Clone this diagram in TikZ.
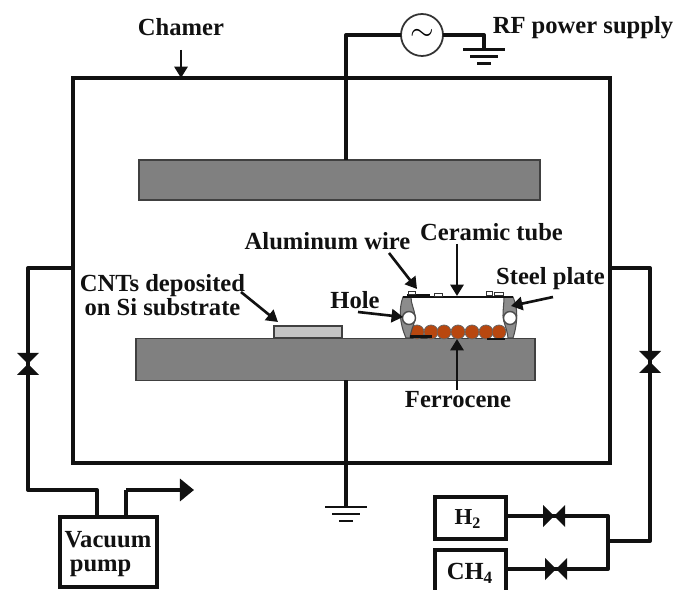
\documentclass[tikz,border=0pt]{standalone}
\usepackage{fontspec}
\setmainfont{Liberation Serif}
\usetikzlibrary{arrows.meta}
\definecolor{PlateGray}{HTML}{808080}
\definecolor{SubstrateGray}{HTML}{C4C4C4}
\definecolor{SteelGray}{HTML}{8C8C8C}
\definecolor{BallOrange}{HTML}{B8470F}
\definecolor{LineBlack}{HTML}{111111}
\tikzset{
  pipe/.style={LineBlack, line width=2.3pt, line join=round},
  thinpipe/.style={LineBlack, line width=1.7pt},
  pointer/.style={LineBlack, line width=1.5pt, -{Triangle[length=6.5pt,width=7.5pt]}},
  lbl/.style={font=\bfseries\fontsize{14}{13.5}\selectfont, text=LineBlack, inner sep=0pt, align=center},
  pxbox/.style 2 args={minimum width=#1*0.02cm, minimum height=#2*0.02cm, inner sep=0pt, outer sep=0pt},
  plate/.style={fill=PlateGray, draw=black!75, line width=0.6pt},
  gasbox/.style={draw=LineBlack, line width=2.3pt, fill=white},
  steel/.style={fill=SteelGray, draw=black!70, line width=0.6pt},
  vvalve/.pic={\fill[LineBlack] (-11,-11) -- (11,-11) -- (-11,11) -- (11,11) -- cycle;},
  hvalve/.pic={\fill[LineBlack] (-11,-11) -- (-11,11) -- (11,-11) -- (11,11) -- cycle;},
  earth/.pic={
    \draw[thinpipe] (-21,0) -- (21,0);
    \draw[thinpipe] (-14,7) -- (14,7);
    \draw[thinpipe] (-7,14) -- (7,14);
  },
}
\begin{document}
\begin{tikzpicture}[x=0.02cm, y=-0.02cm]
  \useasboundingbox (0,0) rectangle (675,590);

  % Chamber and electrodes
  \node[pxbox={537}{385}, draw=LineBlack, line width=2.3pt] (chamber) at (341.5,270.5) {};
  \node[pxbox={401}{40}, plate] (topplate) at (339.5,180) {};
  \node[pxbox={399}{42}, plate] (bottomplate) at (335.5,359.5) {};
  \node[pxbox={68}{12}, fill=SubstrateGray, draw=black!75, line width=0.8pt] (substrate) at (308,332) {};

  % Gas boxes and pump
  \node[pxbox={97}{70}, gasbox] (pump) at (108.5,552) {};
  \node[lbl] (pumplbl) at (108,554) {Vacuum\\pump\hspace*{0.6em}};
  \node[pxbox={71}{42}, gasbox] (hbox) at (470.5,518) {};
  \node[lbl, font=\bfseries\fontsize{13}{13.5}\selectfont] (hlbl) at (468,519) {H\textsubscript{2}};
  \node[pxbox={71}{46}, gasbox] (chbox) at (470.5,573) {};
  \node[lbl] (chlbl) at (470,573) {CH\textsubscript{4}};

  % RF supply
  \coordinate (rftop) at (346,35);
  \coordinate (rfend) at (484,35);
  \coordinate (rfearth) at (484,50);
  \node[circle, draw=black!80, line width=1pt, fill=white, minimum size=42*0.02cm, inner sep=0pt, outer sep=0pt, font=\LARGE] (rf) at (422,35) {$\sim$};
  \draw[pipe] (rftop |- topplate.north) -- (rftop) -- (rf.west);
  \draw[pipe] (rf.east) -- (rfend) -- (rfearth);
  \pic at (rfearth) {earth};

  % Ground under the lower electrode
  \coordinate (lowearth) at (346,507);
  \draw[pipe] (lowearth |- bottomplate.south) -- (lowearth);
  \pic at (lowearth) {earth};

  % Pump line
  \coordinate (leftport) at (28,268);
  \coordinate (leftcorner) at (28,490);
  \coordinate (pumpin) at (97,490);
  \coordinate (pumpout) at (126,490);
  \coordinate (exhaust) at (194,490);
  \draw[pipe] (chamber.west |- leftport) -- (leftport) -- (leftcorner) -- (pumpin) -- (pumpin |- pump.north);
  \draw[pipe] (pumpout |- pump.north) -- (pumpout);
  \draw[LineBlack, line width=2.3pt, -{Triangle[length=8pt,width=12.5pt]}] (pumpout) -- (exhaust);
  \pic at (28,364) {vvalve};

  % Gas line
  \coordinate (rightport) at (650,268);
  \coordinate (rightcorner) at (650,541);
  \coordinate (manifold) at (608,541);
  \coordinate (htop) at (608,516);
  \coordinate (chbottom) at (608,569);
  \draw[pipe] (chamber.east |- rightport) -- (rightport) -- (rightcorner) -- (manifold);
  \draw[pipe] (hbox.east |- htop) -- (htop) -- (chbottom) -- (chbox.east |- chbottom);
  \pic at (650,362) {vvalve};
  \pic at (554,516) {hvalve};
  \pic at (556,569) {hvalve};

  % Ceramic tube on the lower electrode
  \fill[white] (404,297) rectangle (510,338);
  \foreach \ballx in {417,431,444,458,472,486,499}
    \fill[BallOrange, draw=black!60, line width=0.4pt] (\ballx,332) circle (7);
  \draw[steel] (403,297) .. controls (399,308) and (399,322) .. (406,338) -- (410,338)
    .. controls (411,328) and (416,322) .. (415,316) .. controls (414,308) and (411,304) .. (411,297) -- cycle;
  \draw[steel] (513,297) .. controls (518,308) and (518,322) .. (513,338) -- (508,338)
    .. controls (507,328) and (503,322) .. (503,316) .. controls (503,308) and (504,304) .. (504,297) -- cycle;
  \draw[LineBlack, line width=1.2pt] (403,297) -- (513,297);
  \fill[white, draw=black!70, line width=0.8pt] (409,318) circle (6.5);
  \fill[white, draw=black!70, line width=0.8pt] (510,318) circle (6.5);

  % Aluminum wire and residue
  \draw[LineBlack, line width=1.4pt] (407,295) -- (430,295);
  \draw[black!80, fill=white, line width=0.5pt] (408,291) rectangle (415,294);
  \draw[black!80, fill=white, line width=0.5pt] (434,293) rectangle (442,296);
  \draw[black!80, fill=white, line width=0.5pt] (486,291) rectangle (492,295);
  \draw[black!80, fill=white, line width=0.5pt] (494,292) rectangle (503,295);
  \draw[LineBlack, line width=1.2pt] (410,336.5) -- (432,336.5);
  \draw[LineBlack, line width=0.8pt] (487,339) -- (505,339);

  % Labels
  \node[lbl] (chamerlbl) at (181,27) {Chamer};
  \node[lbl] (rflbl) at (583,28) {RF power supply};
  \node[lbl] (wirelbl) at (327.5,241) {Aluminum wire};
  \node[lbl] (tubelbl) at (491.5,232) {Ceramic tube};
  \node[lbl] (steellbl) at (550.5,279) {Steel plate};
  \node[lbl] (holelbl) at (355,300) {Hole};
  \node[lbl] (cntlbl) at (162.5,295) {CNTs deposited\\on Si substrate};
  \node[lbl] (ferrolbl) at (458,400) {Ferrocene};

  % Pointers
  \coordinate (wirefrom) at (389,253);
  \coordinate (wireto) at (417,289);
  \coordinate (tubefrom) at (457,244);
  \coordinate (tubeto) at (457,296);
  \coordinate (steelfrom) at (553,297);
  \coordinate (steelto) at (511,306);
  \coordinate (holefrom) at (358,312);
  \coordinate (holeto) at (403,317);
  \coordinate (cntfrom) at (241,292);
  \coordinate (cntto) at (278,322);
  \coordinate (ferrofrom) at (457,390);
  \coordinate (ferroto) at (457,339);
  \draw[pointer] (chamerlbl.south |- 0,50) -- (chamerlbl.south |- chamber.north);
  \draw[pointer] (wirefrom) -- (wireto);
  \draw[pointer] (tubefrom) -- (tubeto);
  \draw[pointer] (steelfrom) -- (steelto);
  \draw[pointer] (holefrom) -- (holeto);
  \draw[pointer] (cntfrom) -- (cntto);
  \draw[pointer] (ferrofrom) -- (ferroto);
\end{tikzpicture}
\end{document}
